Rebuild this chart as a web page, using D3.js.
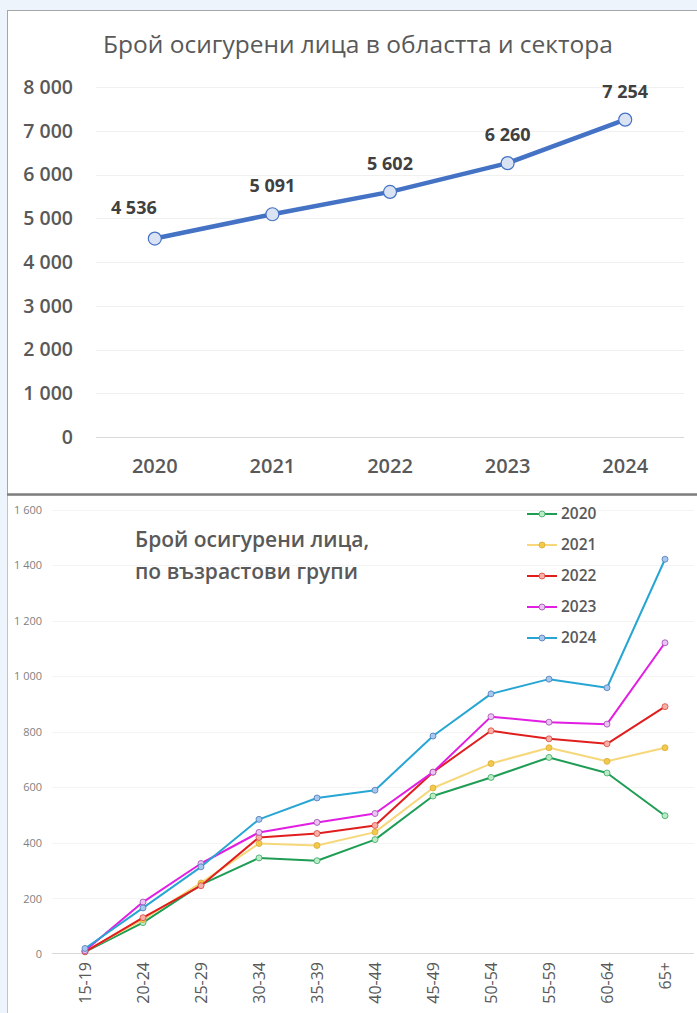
<!DOCTYPE html>
<html>
<head>
<meta charset="utf-8">
<script src="https://cdn.jsdelivr.net/npm/d3@7"></script>
<style>
  html, body { margin: 0; padding: 0; background: #eef4fb; }
  svg { display: block; font-family: "Open Sans", "Noto Sans", sans-serif; }
</style>
</head>
<body>
<svg id="chart" width="697" height="1013"></svg>
<script>
// Insured persons in the region and sector, by year
const years = ["2020", "2021", "2022", "2023", "2024"];
const totals = [4536, 5091, 5602, 6260, 7254];
const totalTicks = [0, 1000, 2000, 3000, 4000, 5000, 6000, 7000, 8000];

// Insured persons by age group, one series per year
const ageGroups = ["15-19", "20-24", "25-29", "30-34", "35-39", "40-44", "45-49", "50-54", "55-59", "60-64", "65+"];
const series2020 = [8, 113, 250, 346, 336, 412, 569, 636, 708, 652, 498];
const series2021 = [10, 124, 256, 398, 391, 439, 598, 686, 743, 694, 743];
const series2022 = [8, 131, 246, 420, 434, 463, 655, 804, 775, 757, 891];
const series2023 = [12, 187, 326, 438, 474, 506, 655, 855, 835, 828, 1121];
const series2024 = [20, 166, 314, 485, 562, 590, 785, 937, 990, 959, 1422];
const ageTicks = [0, 200, 400, 600, 800, 1000, 1200, 1400, 1600];

const ageSeries = [
  { name: "2020", values: series2020, line: "#1f9d55", fill: "#b9ecc6", stroke: "#3aa865" },
  { name: "2021", values: series2021, line: "#f6d77a", fill: "#f3c94a", stroke: "#d9a93a" },
  { name: "2022", values: series2022, line: "#e01e1e", fill: "#f7b0a8", stroke: "#d9473f" },
  { name: "2023", values: series2023, line: "#e21ee2", fill: "#ecc3f3", stroke: "#9a4bb0" },
  { name: "2024", values: series2024, line: "#27a6d4", fill: "#a6c8ee", stroke: "#4f79b8" }
];

const fmt = d3.formatLocale({ decimal: ",", thousands: " ", grouping: [3], currency: ["", ""] }).format(",d");
const svg = d3.select("#chart");
const textColor = "#595959";

// ---------- panels ----------
svg.append("rect").attr("x", 7.5).attr("y", 10.5).attr("width", 700).attr("height", 484)
  .attr("fill", "#ffffff").attr("stroke", "#a6a6a6");
svg.append("rect").attr("x", 7.5).attr("y", 495).attr("width", 700).attr("height", 530)
  .attr("fill", "#ffffff").attr("stroke", "#b8c6d8");
svg.append("line").attr("x1", 7).attr("x2", 697).attr("y1", 494.5).attr("y2", 494.5)
  .attr("stroke", "#7f7f7f").attr("stroke-width", 2.5);

// ---------- upper chart: totals ----------
const upper = svg.append("g");
const xTop = d3.scaleBand().domain(years).range([96, 684]);
const yTop = d3.scaleLinear().domain([0, 8000]).range([437, 87]);

upper.append("text").attr("x", 358).attr("y", 53).attr("text-anchor", "middle")
  .attr("font-size", 24.5).attr("fill", textColor)
  .text("Брой осигурени лица в областта и сектора");

upper.append("g").selectAll("line").data(totalTicks).join("line")
  .attr("x1", 96).attr("x2", 684)
  .attr("y1", d => Math.round(yTop(d)) + 0.5).attr("y2", d => Math.round(yTop(d)) + 0.5)
  .attr("stroke", d => d === 0 ? "#d9d9d9" : "#f0f0f0").attr("stroke-width", 1);

const yAxisTop = upper.append("g").attr("transform", "translate(73,0)")
  .call(d3.axisLeft(yTop).tickValues(totalTicks).tickFormat(fmt).tickSize(0).tickPadding(0));
yAxisTop.select(".domain").remove();
yAxisTop.selectAll("text").attr("font-size", 19.5).attr("font-weight", 600)
  .attr("fill", textColor).attr("font-family", "'Open Sans', sans-serif");

const xAxisTop = upper.append("g").attr("transform", "translate(0,459)")
  .call(d3.axisBottom(xTop).tickSize(0).tickPadding(0));
xAxisTop.select(".domain").remove();
xAxisTop.selectAll("text").attr("font-size", 20).attr("font-weight", 600)
  .attr("fill", textColor).attr("font-family", "'Open Sans', sans-serif");

const cxTop = d => xTop(d) + xTop.bandwidth() / 2;
const lineTop = d3.line().x((d, i) => cxTop(years[i])).y(d => yTop(d));
upper.append("path").datum(totals).attr("d", lineTop)
  .attr("fill", "none").attr("stroke", "#4472c4").attr("stroke-width", 4.5)
  .attr("stroke-linejoin", "round");
upper.append("g").selectAll("circle").data(totals).join("circle")
  .attr("cx", (d, i) => cxTop(years[i])).attr("cy", d => yTop(d)).attr("r", 6.5)
  .attr("fill", "#dae3f3").attr("stroke", "#4472c4").attr("stroke-width", 1.2);
upper.append("g").selectAll("text").data(totals).join("text")
  .attr("x", (d, i) => cxTop(years[i]) + (i === 0 ? -21 : 0))
  .attr("y", (d, i) => yTop(d) - (i === 0 ? 25 : 22))
  .attr("text-anchor", "middle").attr("font-size", 18).attr("font-weight", "bold")
  .attr("fill", "#404040").text(d => fmt(d));

// ---------- lower chart: age groups ----------
const lower = svg.append("g");
const xBot = d3.scaleBand().domain(ageGroups).range([56, 694]);
const yBot = d3.scaleLinear().domain([0, 1600]).range([954, 509.8]);
const cxBot = d => xBot(d) + xBot.bandwidth() / 2;

lower.append("g").selectAll("line").data(ageTicks.filter(d => d > 0)).join("line")
  .attr("x1", 52).attr("x2", 694)
  .attr("y1", d => Math.round(yBot(d)) + 0.5).attr("y2", d => Math.round(yBot(d)) + 0.5)
  .attr("stroke", "#f4f4f4");
lower.append("line").attr("x1", 52).attr("x2", 694).attr("y1", 953.5).attr("y2", 953.5)
  .attr("stroke", "#d9d9d9");

const yAxisBot = lower.append("g").attr("transform", "translate(42,0)")
  .call(d3.axisLeft(yBot).tickValues(ageTicks).tickFormat(fmt).tickSize(0).tickPadding(0));
yAxisBot.select(".domain").remove();
yAxisBot.selectAll("text").attr("font-size", 11).attr("fill", "#7f7f7f")
  .attr("font-family", "'Open Sans', sans-serif");

const xAxisBot = lower.append("g").attr("transform", "translate(0,962)")
  .call(d3.axisBottom(xBot).tickSize(0).tickPadding(0));
xAxisBot.select(".domain").remove();
xAxisBot.selectAll("text")
  .attr("transform", "rotate(-90)").attr("text-anchor", "end")
  .attr("x", 0).attr("y", 0).attr("dy", "0.35em")
  .attr("font-size", 16).attr("fill", textColor).attr("font-family", "'Open Sans', sans-serif");

lower.append("text").attr("x", 135).attr("y", 547).attr("font-size", 21).attr("font-weight", 600)
  .attr("fill", textColor).text("Брой осигурени лица,");
lower.append("text").attr("x", 135).attr("y", 579).attr("font-size", 21).attr("font-weight", 600)
  .attr("fill", textColor).text("по възрастови групи");

const lineBot = d3.line().x((d, i) => cxBot(ageGroups[i])).y(d => yBot(d));
ageSeries.forEach(s => {
  const g = lower.append("g");
  g.append("path").datum(s.values).attr("d", lineBot)
    .attr("fill", "none").attr("stroke", s.line).attr("stroke-width", 2)
    .attr("stroke-linejoin", "round");
  g.selectAll("circle").data(s.values).join("circle")
    .attr("cx", (d, i) => cxBot(ageGroups[i])).attr("cy", d => yBot(d)).attr("r", 3)
    .attr("fill", s.fill).attr("stroke", s.stroke).attr("stroke-width", 0.8);
});

// legend
const legend = lower.append("g");
const legRows = legend.selectAll("g").data(ageSeries).join("g")
  .attr("transform", (d, i) => `translate(527, ${514 + i * 31})`);
legRows.append("line").attr("x1", 0).attr("x2", 30).attr("y1", 0).attr("y2", 0)
  .attr("stroke", d => d.line).attr("stroke-width", 2);
legRows.append("circle").attr("cx", 15).attr("cy", 0).attr("r", 3)
  .attr("fill", d => d.fill).attr("stroke", d => d.stroke).attr("stroke-width", 0.8);
legRows.append("text").attr("x", 34).attr("y", 0).attr("dy", "0.35em")
  .attr("font-size", 15.5).attr("font-weight", 600).attr("fill", textColor)
  .text(d => d.name);
</script>
</body>
</html>
